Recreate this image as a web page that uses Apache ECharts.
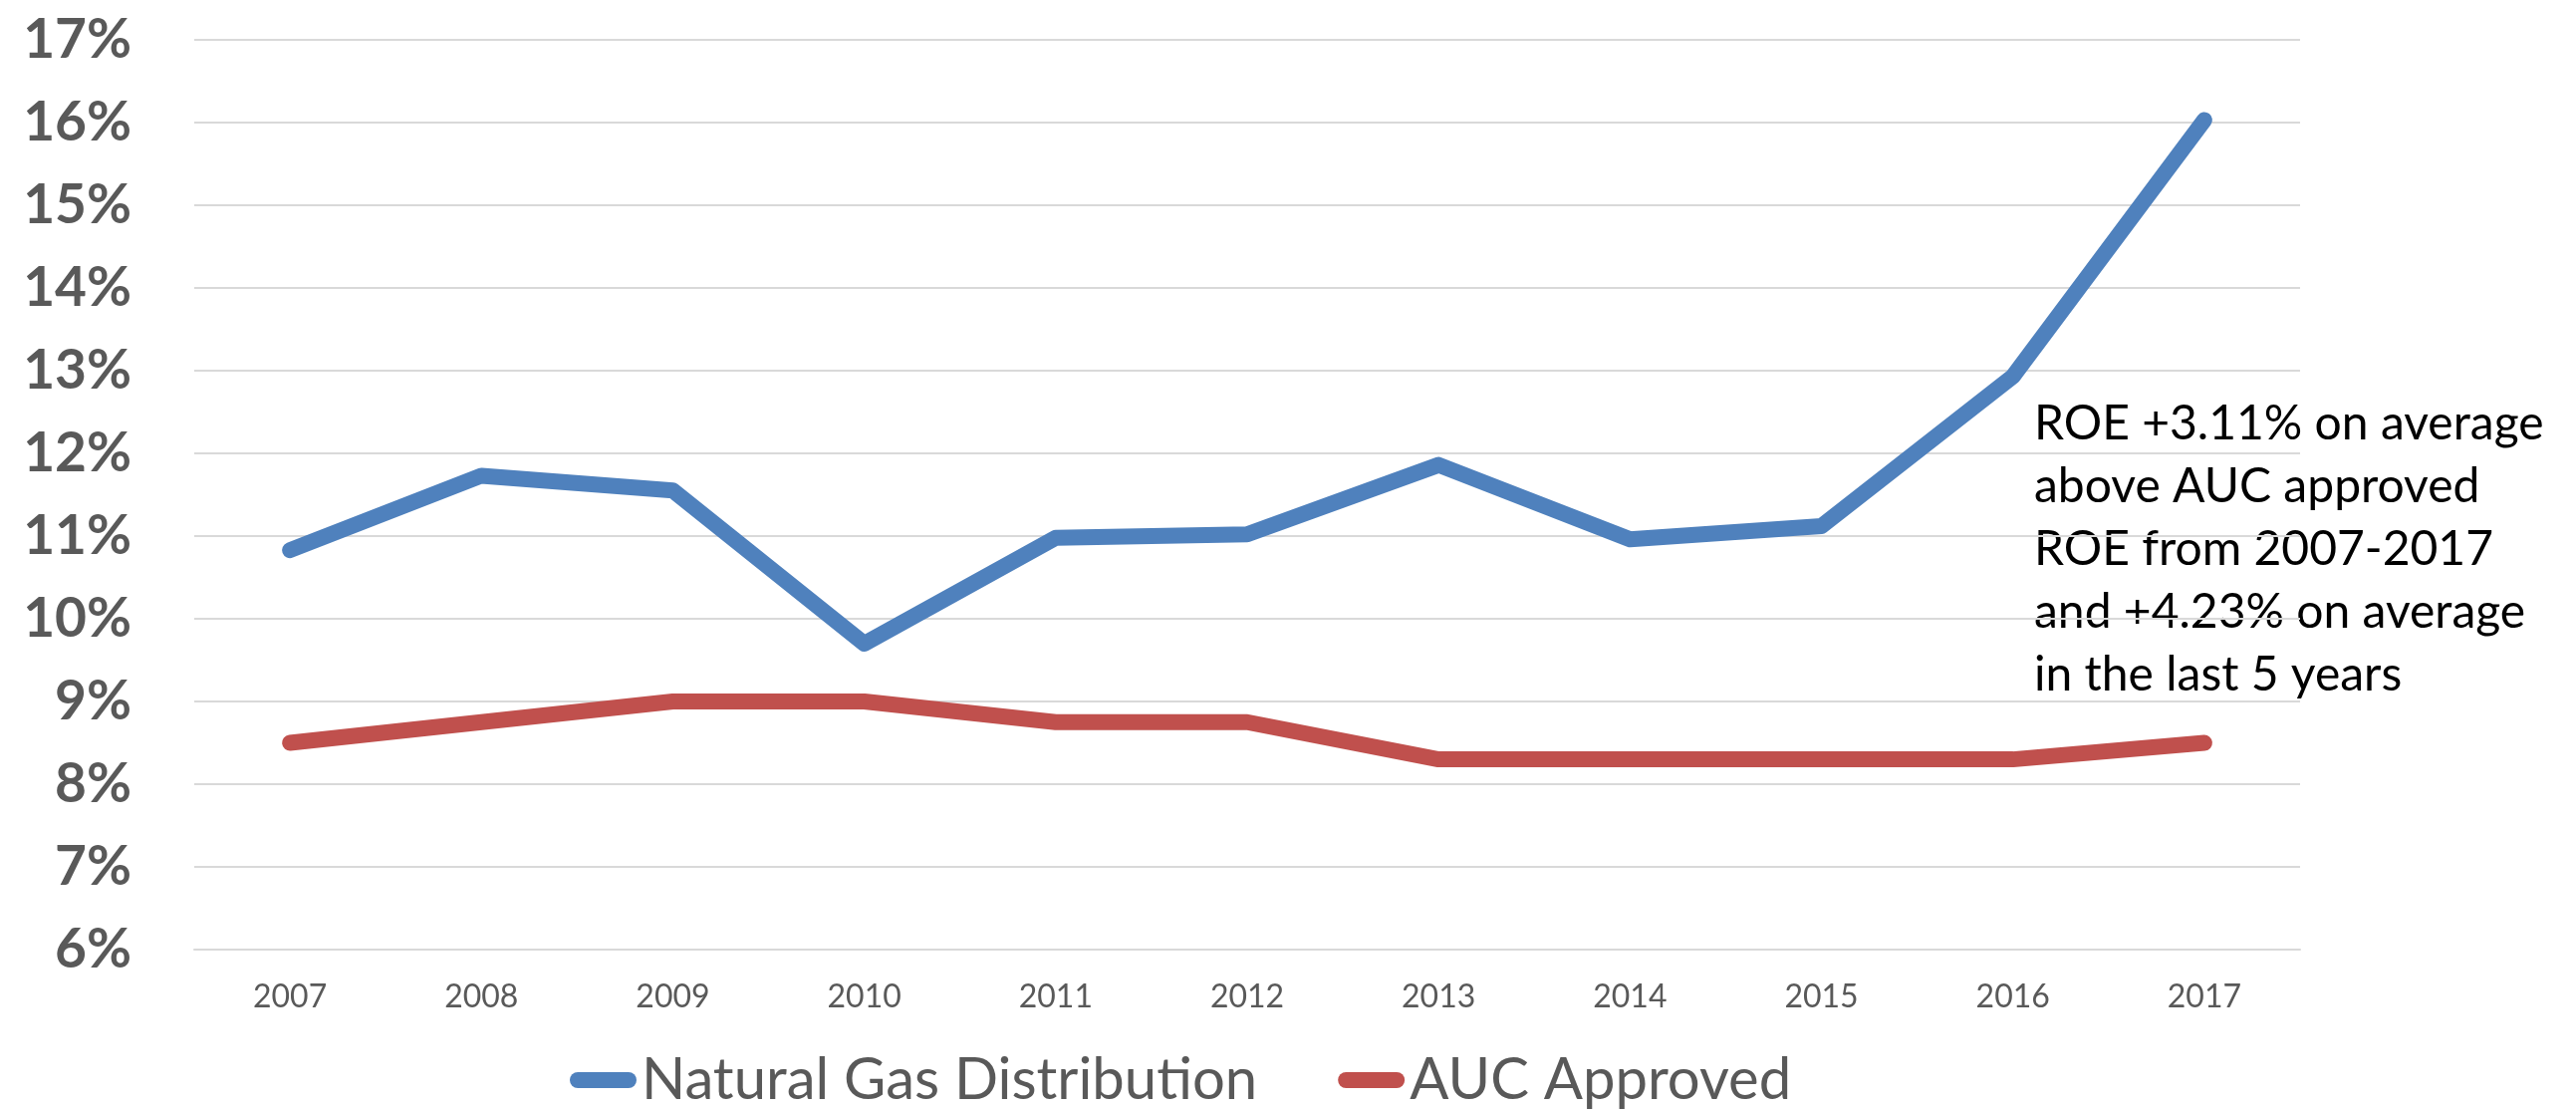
<!DOCTYPE html>
<html>
<head>
<meta charset="utf-8">
<title>ROE vs AUC Approved</title>
<script src="https://cdn.jsdelivr.net/npm/echarts@6/dist/echarts.min.js"></script>
<style>
  html, body { margin: 0; padding: 0; background: #fff; }
  #chart { width: 2586px; height: 1115px; }
</style>
</head>
<body>
<div id="chart"></div>
<script>
// data (percent)
var years = ['2007', '2008', '2009', '2010', '2011', '2012', '2013', '2014', '2015', '2016', '2017']
var gasDistribution = [10.83, 11.73, 11.55, 9.7, 10.98, 11.02, 11.86, 10.96, 11.12, 12.93, 16.03]
var aucApproved = [8.5, 8.75, 9.0, 9.0, 8.75, 8.75, 8.3, 8.3, 8.3, 8.3, 8.5]
var noteLines = [
  'ROE +3.11% on average',
  'above AUC approved',
  'ROE from 2007-2017',
  'and +4.23% on average',
  'in the last 5 years'
]

var grey = '#595959'
var gridColor = '#d9d9d9'
var capsule = 'path://M8,0 H59 A8,8 0 0 1 59,16 H8 A8,8 0 0 1 8,0 Z'

var chart = echarts.init(document.getElementById('chart'))
chart.setOption({
  animation: false,
  color: ['#4F81BD', '#C0504D'],
  grid: {
    left: 195,
    right: 277,
    top: 40,
    bottom: 162
  },
  legend: {
    data: ['Natural Gas Distribution', 'AUC Approved'],
    left: 567,
    top: 1050,
    icon: capsule,
    itemWidth: 67,
    itemHeight: 17,
    itemGap: 81,
    textStyle: {
      fontFamily: 'Lato',
      fontSize: 58,
      color: grey
    }
  },
  xAxis: {
    type: 'category',
    data: years,
    boundaryGap: true,
    axisTick: { show: false },
    axisLine: { lineStyle: { color: gridColor, width: 2 } },
    axisLabel: {
      margin: 32,
      fontFamily: 'Lato',
      fontSize: 32,
      color: grey
    }
  },
  yAxis: {
    type: 'value',
    min: 6,
    max: 17,
    interval: 1,
    axisLine: { show: false },
    axisTick: { show: false },
    splitLine: { lineStyle: { color: gridColor, width: 2 } },
    axisLabel: {
      margin: 63,
      formatter: '{value}%',
      fontFamily: 'Lato',
      fontWeight: 'bold',
      fontSize: 55,
      color: grey
    }
  },
  series: [{
    name: 'Natural Gas Distribution',
    type: 'line',
    data: gasDistribution,
    symbol: 'none',
    lineStyle: { width: 16, cap: 'round', join: 'round' }
  }, {
    name: 'AUC Approved',
    type: 'line',
    data: aucApproved,
    symbol: 'none',
    lineStyle: { width: 16, cap: 'round', join: 'round' }
  }],
  graphic: [{
    type: 'text',
    left: 2042,
    top: 394,
    style: {
      text: noteLines.join('\n'),
      fontFamily: 'Lato',
      fontSize: 48,
      lineHeight: 63,
      fill: '#000'
    }
  }]
})
</script>
</body>
</html>
